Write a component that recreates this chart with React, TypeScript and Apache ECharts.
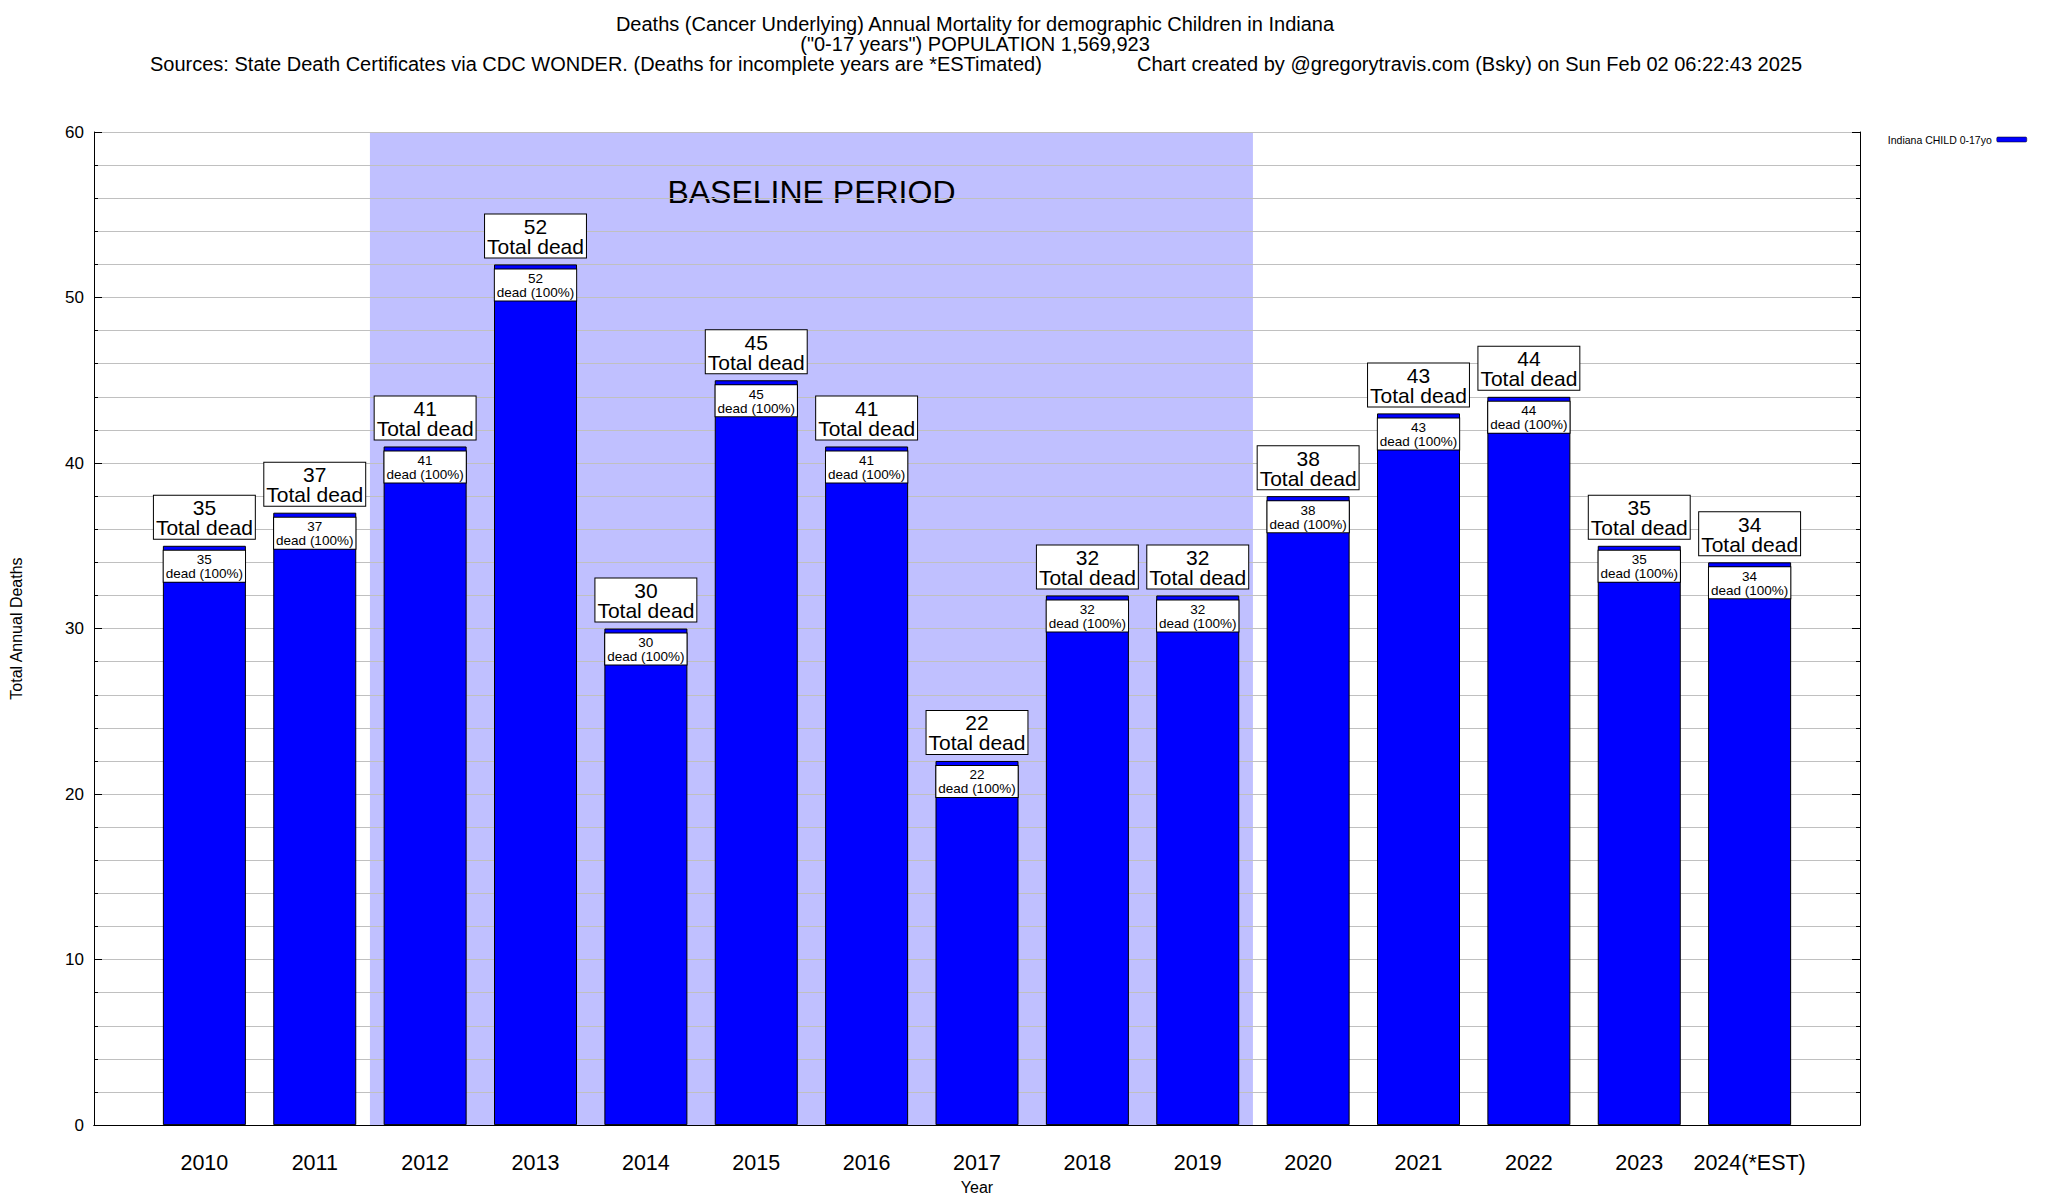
import React, { useEffect, useRef } from "react";
import * as echarts from "echarts";

const years = [2010, 2011, 2012, 2013, 2014, 2015, 2016, 2017, 2018, 2019, 2020, 2021, 2022, 2023, 2024];
const yearLabels = ["2010", "2011", "2012", "2013", "2014", "2015", "2016", "2017", "2018", "2019", "2020", "2021", "2022", "2023", "2024(*EST)"];
const deaths = [35, 37, 41, 52, 30, 45, 41, 22, 32, 32, 38, 43, 44, 35, 34];
const baselineRange = [2011.5, 2019.5];
const seriesName = "Indiana CHILD 0-17yo";
const titleLines = [
  "Deaths (Cancer Underlying) Annual Mortality for demographic Children in Indiana",
  "(\"0-17 years\") POPULATION 1,569,923",
];
const sourceText = "Sources: State Death Certificates via CDC WONDER. (Deaths for incomplete years are *ESTimated)";
const creditText = "Chart created by @gregorytravis.com (Bsky) on Sun Feb 02 06:22:43 2025";

const FONT = "'Liberation Sans', Arial, Helvetica, sans-serif";

export default function App() {
  const ref = useRef<HTMLDivElement>(null);
  useEffect(() => {
    if (!ref.current) return;
    const chart = echarts.init(ref.current, undefined, { renderer: "svg" });
    const data = years.map((y, i) => [y, deaths[i]]);
    const xFmt = (v: number) => {
      const i = years.indexOf(v);
      return i >= 0 ? yearLabels[i] : "";
    };
    const option: any = {
      animation: false,
      backgroundColor: "#ffffff",
      textStyle: { fontFamily: FONT, color: "#000" },
      graphic: [
        { type: "text", x: 975, y: 24, style: { text: titleLines[0], fontSize: 20, fontFamily: FONT, fill: "#000", textAlign: "center", textVerticalAlign: "middle" } },
        { type: "text", x: 975, y: 44, style: { text: titleLines[1], fontSize: 20, fontFamily: FONT, fill: "#000", textAlign: "center", textVerticalAlign: "middle" } },
        { type: "text", x: 150, y: 64, style: { text: sourceText, fontSize: 20, fontFamily: FONT, fill: "#000", textAlign: "left", textVerticalAlign: "middle" } },
        { type: "text", x: 1137, y: 64, style: { text: creditText, fontSize: 20, fontFamily: FONT, fill: "#000", textAlign: "left", textVerticalAlign: "middle" } },
      ],
      legend: {
        data: [seriesName],
        right: 16,
        top: 129,
        align: "right",
        itemWidth: 30,
        itemHeight: 5,
        itemStyle: { borderColor: "#000", borderWidth: 0.5 },
        textStyle: { fontSize: 10.5, fontFamily: FONT, color: "#000" },
      },
      grid: { left: 93, right: 188, top: 132, bottom: 68, show: false },
      xAxis: [
        {
          type: "value",
          min: 2009,
          max: 2025,
          interval: 1,
          position: "bottom",
          z: 3,
          name: "Year",
          nameLocation: "middle",
          nameGap: 47,
          nameTextStyle: { fontSize: 16, color: "#000" },
          axisLine: { show: true, lineStyle: { color: "#000", width: 1 } },
          axisTick: { show: false },
          splitLine: { show: false },
          axisLabel: { formatter: xFmt, fontSize: 21.5, color: "#000", margin: 27 },
        },
        {
          type: "value",
          min: 2009,
          max: 2025,
          interval: 1,
          position: "top",
          z: 3,
          axisLine: { show: true, lineStyle: { color: "#000", width: 1 } },
          axisTick: { show: false },
          splitLine: { show: false },
          axisLabel: { show: false },
        },
      ],
      yAxis: [
        {
          type: "value",
          min: 0,
          max: 60,
          interval: 10,
          position: "left",
          z: 3,
          name: "Total Annual Deaths",
          nameLocation: "middle",
          nameGap: 70,
          nameTextStyle: { fontSize: 16, color: "#000" },
          axisLine: { show: true, lineStyle: { color: "#000", width: 1 } },
          axisTick: { show: true, inside: true, length: 8, lineStyle: { color: "#000" } },
          minorTick: { show: true, splitNumber: 5, length: 4, lineStyle: { color: "#000" } },
          splitLine: { show: false },
          axisLabel: { fontSize: 17, color: "#000", margin: 10 },
        },
        {
          type: "value",
          min: 0,
          max: 60,
          interval: 10,
          position: "right",
          z: 1.5,
          axisLine: { show: true, lineStyle: { color: "#000", width: 1 } },
          axisTick: { show: true, inside: true, length: 8, lineStyle: { color: "#000" } },
          minorTick: { show: true, splitNumber: 5, length: 4, lineStyle: { color: "#000" } },
          splitLine: { show: true, lineStyle: { color: "#c0c0c0", width: 1 } },
          minorSplitLine: { show: true, lineStyle: { color: "#c0c0c0", width: 1 } },
          axisLabel: { show: false },
        },
      ],
      series: [
        {
          name: seriesName,
          type: "bar",
          xAxisIndex: 0,
          yAxisIndex: 0,
          barWidth: 83,
          barGap: "-100%",
          z: 2,
          data,
          itemStyle: { color: "#0000ff", borderColor: "#000", borderWidth: 1 },
          label: {
            show: true,
            position: "insideTop",
            distance: 5,
            formatter: (p: any) => `${p.value[1]}\ndead (100%)`,
            fontSize: 13.5,
            lineHeight: 14,
            color: "#000",
            align: "center",
            backgroundColor: "#ffffff",
            borderColor: "#000",
            borderWidth: 1,
            padding: [2, 2, 1, 2],
          },
          markArea: {
            silent: true,
            z: 1,
            itemStyle: { color: "#c0c0ff" },
            label: {
              show: true,
              position: "insideTop",
              distance: 44,
              fontSize: 32,
              color: "#000",
              fontFamily: FONT,
            },
            data: [[{ xAxis: baselineRange[0], name: "BASELINE PERIOD" }, { xAxis: baselineRange[1] }]],
          },
        },
        {
          name: "total",
          type: "bar",
          xAxisIndex: 0,
          yAxisIndex: 0,
          barWidth: 83,
          barGap: "-100%",
          z: 2,
          data,
          itemStyle: { color: "rgba(0,0,0,0)", borderWidth: 0 },
          label: {
            show: true,
            position: "top",
            distance: 7,
            formatter: (p: any) => `${p.value[1]}\nTotal dead`,
            fontSize: 21,
            lineHeight: 20,
            color: "#000",
            align: "center",
            backgroundColor: "#ffffff",
            borderColor: "#000",
            borderWidth: 1,
            padding: [2, 2, 1, 2],
          },
        },
      ],
    };
    chart.setOption(option);
    return () => chart.dispose();
  }, []);
  return (
    <div
      ref={ref}
      style={{ position: "absolute", left: 0, top: 0, width: 2048, height: 1200, background: "#fff" }}
    />
  );
}
